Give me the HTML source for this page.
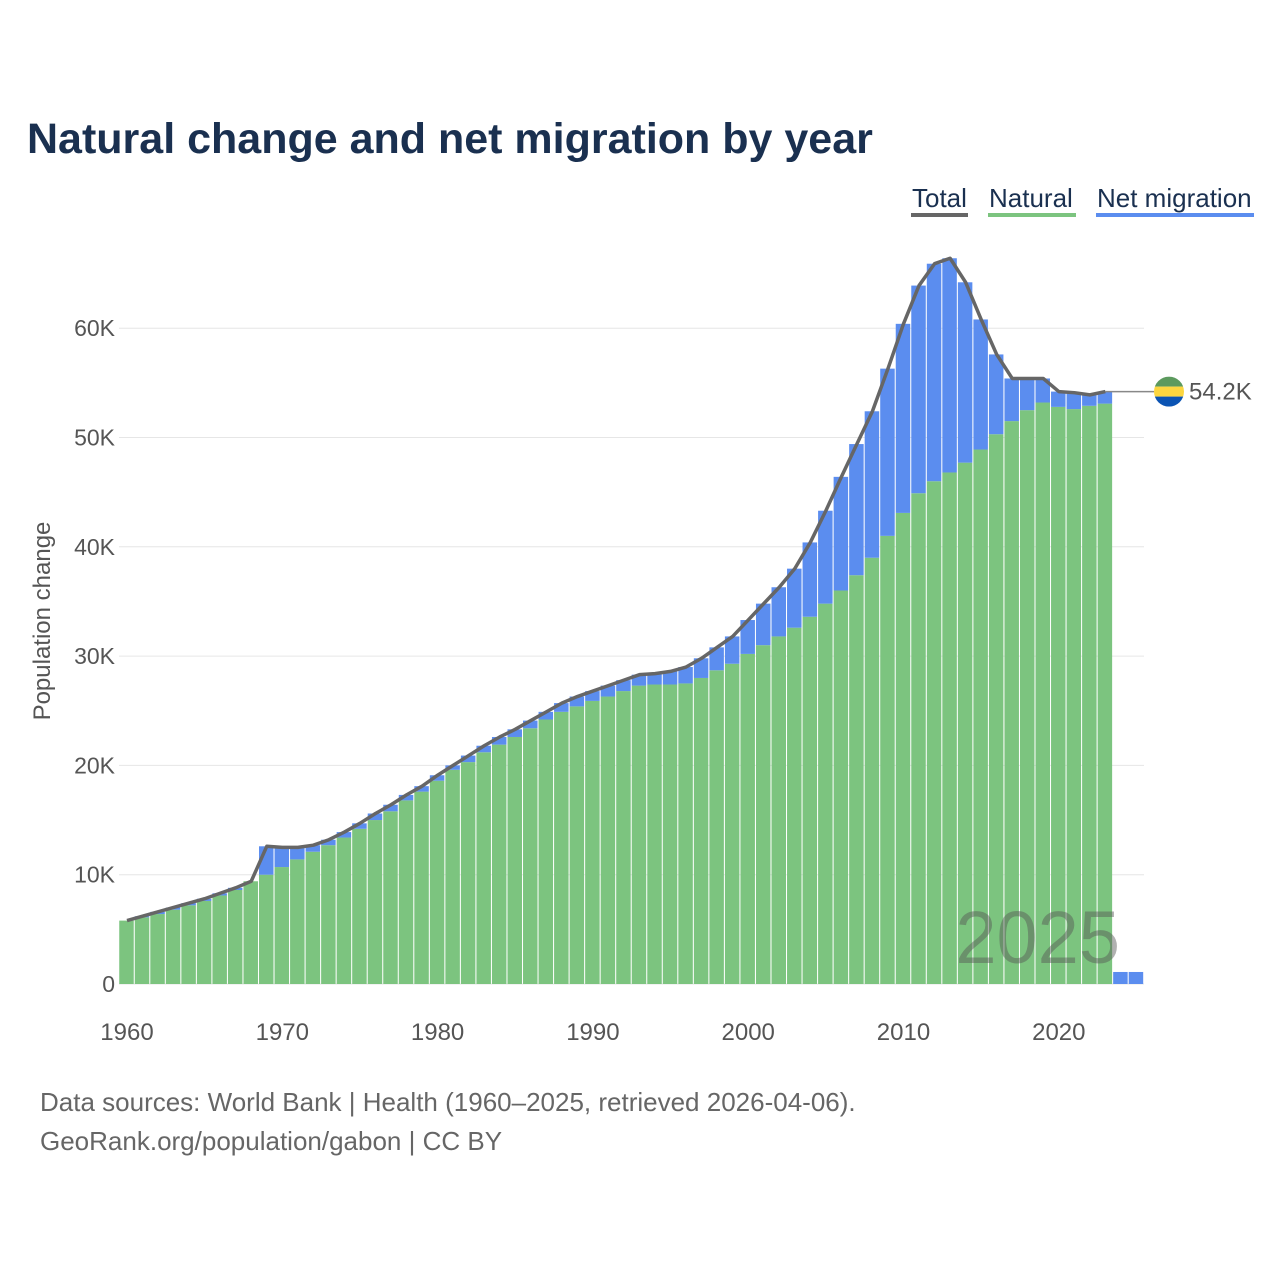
<!DOCTYPE html>
<html><head><meta charset="utf-8"><style>
body{margin:0;background:#fff;font-family:"Liberation Sans",sans-serif;}
#wrap{position:relative;width:1280px;height:1280px;overflow:hidden;}
</style></head><body><div id="wrap">
<svg id="chart" width="1280" height="1280" xmlns="http://www.w3.org/2000/svg">
<text x="27" y="153" font-size="43" font-weight="bold" fill="#1a3050">Natural change and net migration by year</text>
<g>
<g><text x="912" y="207" font-size="26" fill="#1a3050">Total</text><rect x="911" y="213" width="57" height="4" fill="#666"/></g>
<g><text x="989" y="207" font-size="26" fill="#1a3050">Natural</text><rect x="988" y="213" width="88" height="4" fill="#7cc47f"/></g>
<g><text x="1097" y="207" font-size="26" fill="#1a3050">Net migration</text><rect x="1096" y="213" width="158" height="4" fill="#5b8def"/></g>
</g>
<g id="grid"></g><g id="bars"></g><g id="line"></g><g id="axes"></g>
<text x="1120" y="963" font-size="74" fill="#555" opacity="0.45" text-anchor="end">2025</text>
<text transform="translate(50,621) rotate(-90)" font-size="24" fill="#555" text-anchor="middle">Population change</text>
<text x="40" y="1111" font-size="26" fill="#666">Data sources: World Bank | Health (1960–2025, retrieved 2026-04-06).</text>
<text x="40" y="1150" font-size="26" fill="#666">GeoRank.org/population/gabon | CC BY</text>
</svg></div>
<script>
const years=[];for(let y=1960;y<=2025;y++)years.push(y);
const natural=[5.8,6.1,6.4,6.8,7.2,7.6,8.1,8.6,9.4,10.0,10.7,11.4,12.1,12.7,13.4,14.2,15.0,15.8,16.8,17.6,18.6,19.6,20.3,21.2,21.9,22.6,23.4,24.2,24.9,25.4,25.9,26.3,26.8,27.3,27.4,27.4,27.5,28.0,28.7,29.3,30.2,31.0,31.8,32.6,33.6,34.8,36.0,37.4,39.0,41.0,43.1,44.9,46.0,46.8,47.7,48.9,50.3,51.5,52.5,53.2,52.8,52.6,52.9,53.1,0,0];
const total=[5.8,6.2,6.6,7.0,7.4,7.8,8.3,8.8,9.4,12.6,12.5,12.5,12.7,13.2,13.9,14.7,15.6,16.4,17.3,18.1,19.1,20.0,20.9,21.8,22.6,23.3,24.1,24.9,25.7,26.3,26.8,27.3,27.8,28.3,28.4,28.6,29.0,29.8,30.8,31.8,33.3,34.8,36.3,38.0,40.4,43.3,46.4,49.4,52.4,56.3,60.4,63.9,65.9,66.4,64.2,60.8,57.6,55.4,55.4,55.4,54.2,54.1,53.9,54.2,1.1,1.1];
const lineEndYear=2023;
const yTicks=[0,10,20,30,40,50,60];
const xTicks=[1960,1970,1980,1990,2000,2010,2020];
const NS="http://www.w3.org/2000/svg";
const X=y=>127+(y-1960)*15.53;
const Y=v=>984-v*10.93;
function mk(t,a,p){const e=document.createElementNS(NS,t);for(const k in a)e.setAttribute(k,a[k]);p.appendChild(e);return e;}
const grid=document.getElementById('grid'),bars=document.getElementById('bars'),line=document.getElementById('line'),axes=document.getElementById('axes');
yTicks.forEach(t=>{
 const g=mk('line',{x1:119,x2:1144,y1:Y(t),y2:Y(t),stroke:'#e6e6e6','stroke-width':1},grid);
 
 
 const l=mk('text',{x:115,y:Y(t)+8,'font-size':23,fill:'#555','text-anchor':'end'},axes);
 l.textContent=t===0?'0':t+'K';
 
 
});
xTicks.forEach(t=>{
 const l=mk('text',{x:X(t),y:1040,'font-size':24,fill:'#555','text-anchor':'middle'},axes);
 l.textContent=t;
 
 
});
years.forEach((yr,i)=>{
 const n=natural[i],t=total[i],x=X(yr)-7.76,w=14.5;
 if(n>0){const r=mk('rect',{x:x,y:Y(n),width:w,height:Y(0)-Y(n),fill:'#7cc47f'},bars);
 
 }
 const m=t-n;
 if(m>0){const r=mk('rect',{x:x,y:Y(t),width:w,height:Y(n)-Y(t),fill:'#5b8def'},bars);
 
 }
});
let d='';years.forEach((yr,i)=>{if(yr<=lineEndYear)d+=(d?'L':'M')+X(yr)+','+Y(total[i]);});
const p=mk('path',{d:d,fill:'none',stroke:'#666','stroke-width':3.5,'stroke-linejoin':'round'},line);


const li=years.indexOf(lineEndYear),ly=Y(total[li]);
const c=mk('line',{x1:X(lineEndYear),x2:1154,y1:ly,y2:ly,stroke:'#888','stroke-width':1.5},line);


const fg=mk('g',{},line);


mk('clipPath',{id:'fc'},fg);mk('circle',{cx:1169,cy:ly,r:15},document.getElementById('fc'));
mk('rect',{x:1154,y:ly-15,width:30,height:10,fill:'#5c9a5e','clip-path':'url(#fc)'},fg);
mk('rect',{x:1154,y:ly-5,width:30,height:10,fill:'#fcd640','clip-path':'url(#fc)'},fg);
mk('rect',{x:1154,y:ly+5,width:30,height:10,fill:'#0b54b4','clip-path':'url(#fc)'},fg);
const vl=mk('text',{x:1189,y:ly+8,'font-size':24,fill:'#555'},line);
vl.textContent=total[li].toFixed(1)+'K';


</script></body></html>
